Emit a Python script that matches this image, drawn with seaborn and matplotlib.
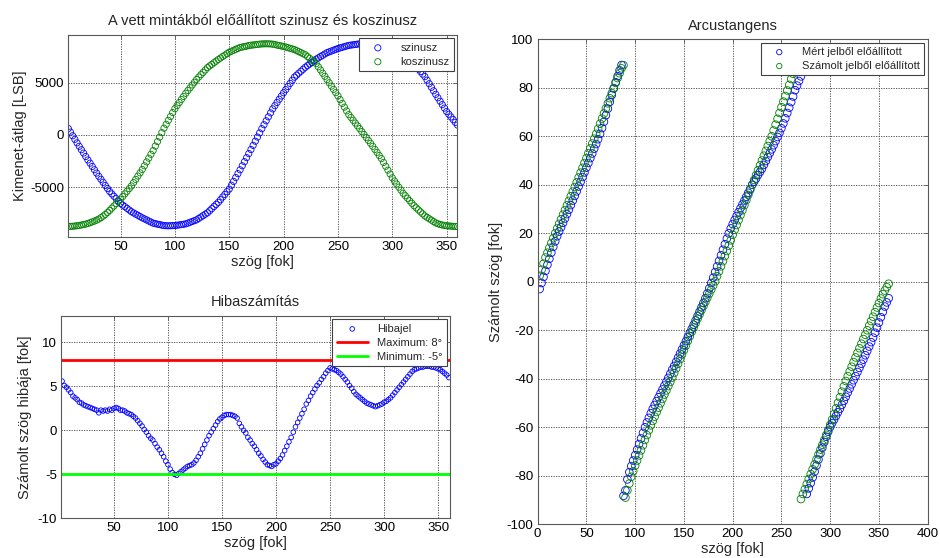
import matplotlib
matplotlib.use('Agg')
import matplotlib.pyplot as plt
import seaborn as sns

# === sample positions (deg) ===
angle_deg = list(range(2, 361, 2))

# === averaged ADC output ===
sin_avg = [
    610, 270, -80, -420, -760, -1090, -1420, -1740, -2070, -2400,
    -2710, -3030, -3340, -3660, -3970, -4260, -4550, -4850, -5140, -5430,
    -5660, -5890, -6110, -6340, -6570, -6730, -6890, -7050, -7210, -7370,
    -7490, -7610, -7720, -7840, -7960, -8060, -8160, -8270, -8370, -8470,
    -8520, -8570, -8610, -8660, -8710, -8720, -8730, -8720, -8710, -8700,
    -8670, -8640, -8610, -8580, -8540, -8470, -8390, -8310, -8230, -8150,
    -8020, -7880, -7750, -7610, -7480, -7280, -7080, -6870, -6670, -6470,
    -6220, -5960, -5710, -5450, -5200, -4830, -4460, -4090, -3720, -3350,
    -2960, -2570, -2180, -1790, -1400, -1000, -600, -200, 200, 600,
    980, 1360, 1740, 2120, 2500, 2810, 3120, 3430, 3740, 4050,
    4350, 4650, 4950, 5250, 5550, 5740, 5930, 6120, 6310, 6500,
    6660, 6810, 6970, 7120, 7280, 7400, 7530, 7650, 7780, 7900,
    7980, 8060, 8140, 8220, 8300, 8360, 8420, 8480, 8540, 8600,
    8630, 8660, 8690, 8720, 8750, 8760, 8760, 8740, 8720, 8700,
    8660, 8620, 8580, 8540, 8500, 8420, 8340, 8260, 8180, 8100,
    7980, 7860, 7740, 7620, 7500, 7360, 7220, 7080, 6940, 6800,
    6560, 6320, 6080, 5840, 5600, 5260, 4920, 4580, 4240, 3900,
    3570, 3240, 2910, 2580, 2250, 1990, 1730, 1470, 1210, 950,
]
cos_avg = [
    -8785, -8780, -8770, -8750, -8720, -8690, -8650, -8610, -8560, -8500,
    -8430, -8350, -8270, -8180, -8080, -7950, -7800, -7640, -7450, -7250,
    -7030, -6820, -6600, -6390, -6170, -5920, -5660, -5410, -5150, -4900,
    -4580, -4270, -3950, -3640, -3320, -2960, -2590, -2230, -1860, -1500,
    -1070, -640, -210, 220, 650, 1020, 1400, 1770, 2150, 2520,
    2820, 3110, 3410, 3700, 4000, 4270, 4530, 4800, 5060, 5330,
    5560, 5790, 6010, 6240, 6470, 6630, 6780, 6940, 7090, 7250,
    7390, 7530, 7670, 7810, 7950, 8040, 8130, 8220, 8310, 8400,
    8440, 8490, 8530, 8580, 8620, 8640, 8670, 8690, 8720, 8740,
    8750, 8755, 8750, 8740, 8720, 8680, 8630, 8590, 8540, 8500,
    8440, 8380, 8320, 8260, 8200, 8100, 8000, 7900, 7800, 7700,
    7530, 7360, 7190, 7020, 6850, 6540, 6240, 5930, 5630, 5320,
    5010, 4690, 4380, 4060, 3750, 3390, 3030, 2670, 2310, 1950,
    1680, 1410, 1140, 870, 600, 320, 40, -240, -520, -800,
    -1090, -1390, -1680, -1980, -2270, -2640, -3010, -3380, -3750, -4120,
    -4420, -4710, -5010, -5300, -5600, -5840, -6080, -6320, -6560, -6800,
    -7000, -7190, -7390, -7580, -7780, -7910, -8050, -8180, -8320, -8450,
    -8530, -8600, -8650, -8690, -8720, -8740, -8760, -8775, -8785, -8790,
]

# === angle error (deg) ===
angle_error = [
    5.6, 5.1, 4.9, 4.6, 4.3, 3.9, 3.7, 3.5, 3.2, 3.1,
    2.9, 2.8, 2.7, 2.6, 2.5, 2.4, 2.3, 2.0, 2.3, 2.2,
    2.3, 2.2, 2.4, 2.3, 2.5, 2.6, 2.5, 2.3, 2.3, 2.2,
    2.0, 1.9, 1.8, 1.6, 1.4, 1.1, 0.8, 0.5, 0.1, -0.2,
    -0.6, -0.9, -1.1, -1.5, -1.9, -2.2, -2.6, -3.0, -3.5, -3.9,
    -4.4, -4.8, -5.0, -5.1, -4.9, -4.7, -4.5, -4.3, -4.1, -4.0,
    -3.9, -3.7, -3.4, -3.0, -2.6, -2.1, -1.6, -1.1, -0.6, -0.2,
    0.2, 0.6, 1.0, 1.3, 1.5, 1.7, 1.8, 1.8, 1.8, 1.7,
    1.6, 1.4, 0.8, 0.4, 0.0, -0.3, -0.8, -1.1, -1.5, -1.8,
    -2.2, -2.6, -2.9, -3.3, -3.6, -3.9, -4.0, -4.1, -3.9, -3.8,
    -3.5, -3.2, -2.8, -2.3, -1.8, -1.3, -0.8, -0.2, 0.4, 0.9,
    1.4, 1.9, 2.4, 3.0, 3.4, 3.9, 4.3, 4.7, 5.1, 5.4,
    5.8, 6.1, 6.5, 6.8, 7.1, 7.0, 6.9, 6.8, 6.6, 6.4,
    6.1, 5.8, 5.5, 5.1, 4.8, 4.4, 4.1, 3.9, 3.7, 3.5,
    3.3, 3.1, 3.0, 2.9, 2.8, 2.7, 2.8, 2.9, 3.0, 3.2,
    3.3, 3.5, 3.7, 4.0, 4.3, 4.6, 4.9, 5.2, 5.5, 5.8,
    6.1, 6.4, 6.7, 6.9, 7.0, 7.1, 7.2, 7.2, 7.3, 7.3,
    7.3, 7.2, 7.2, 7.1, 7.0, 6.9, 6.7, 6.5, 6.3, 6.0,
]
err_max = 8
err_min = -5

# === arctan results (deg) ===
atan_measured = [
    -3, -0.5, 2, 4.5, 7, 9.5, 12, 14.4, 16.7, 18.8,
    20.7, 22.5, 24.3, 26.1, 27.9, 29.7, 31.6, 33.5, 35.4, 37.3,
    39.3, 41.2, 43.2, 45.1, 47.1, 49, 51, 52.9, 54.9, 56.8,
    58.8, 61, 63.4, 66, 68.7, 71.4, 74.2, 77, 79.7, 82.3,
    84.8, 87.2, 89.4, -88.3, -86, -81.5, -78.5, -76, -73.7, -71.5,
    -69.2, -66.9, -64.6, -62.3, -60, -58, -56.1, -54.2, -52.4, -50.8,
    -49.2, -47.6, -46, -44.4, -42.8, -41.2, -39.6, -37.9, -36.2, -34.7,
    -33, -31.3, -29.6, -27.9, -26.2, -24.5, -22.8, -21.1, -19.4, -17.7,
    -15.9, -14.1, -12.3, -10.5, -8.7, -6.8, -4.8, -2.7, -0.5, 1.7,
    4, 6.3, 8.6, 10.9, 13.2, 15.5, 17.8, 20, 22, 23.8,
    25.5, 27.1, 28.7, 30.3, 31.9, 33.5, 35.1, 36.7, 38.3, 40,
    41.3, 42.6, 44, 45.3, 46.6, 48.2, 49.8, 51.4, 53, 54.6,
    56.3, 58, 59.7, 61.4, 63.3, 65.3, 67.4, 69.6, 71.8, 74.1,
    76.4, 79, 80.9, 82.8, 84.7, 86.6, 88.5, -87.5, -85.2, -83,
    -80.7, -78.3, -75.8, -73.3, -70.8, -68.4, -66.1, -63.9, -61.8, -59.9,
    -58.3, -56.8, -55.3, -53.8, -52.3, -50.7, -49.1, -47.4, -45.7, -44,
    -42.3, -40.6, -38.9, -37.2, -35.5, -33.8, -32.1, -30.3, -28.5, -26.7,
    -24.9, -23, -21, -18.9, -16.8, -14.6, -12.4, -10.2, -8.5, -6.8,
]
atan_calculated = [
    2.5, 5, 7.5, 10, 12, 14, 16, 18, 20, 22,
    23.9, 25.8, 27.7, 29.6, 31.5, 33.4, 35.3, 37.2, 39.1, 41,
    43, 45, 47, 49, 51, 53, 55, 57, 59, 61,
    63.1, 65.2, 67.3, 69.4, 71.5, 73.6, 75.7, 77.8, 79.9, 82,
    84, 86, 88, 89.3, -89, -86, -83.2, -80.4, -78.1, -75.8,
    -73.7, -71.6, -69.5, -67.4, -65.2, -63.2, -61.2, -59.2, -57.4, -55.6,
    -53.7, -51.9, -50.1, -48.3, -46.5, -44.8, -43, -41.3, -39.5, -37.6,
    -35.7, -33.8, -31.9, -30, -28.2, -26.3, -24.4, -22.5, -20.6, -18.8,
    -17, -15.2, -13.5, -11.7, -10, -8.3, -6.6, -4.9, -3.2, -1.5,
    0.2, 2.3, 4.3, 6.4, 8.5, 10.6, 12.7, 14.9, 17.1, 19.4,
    21.4, 23.4, 25.4, 27.5, 29.5, 31.6, 33.7, 35.8, 37.9, 40,
    42, 44, 46, 48, 50, 52, 54, 56, 58, 60,
    62.4, 64.8, 67.2, 69.6, 72, 74.3, 76.6, 78.9, 81.2, 83.6,
    85.8, 87, 88.3, 89.4, -89.6, -87.5, -85.5, -83.4, -81.3, -79.3,
    -77.3, -75.3, -73.2, -71.2, -69.2, -67.2, -65.2, -63.1, -61.1, -59,
    -56.8, -54.5, -52.2, -49.9, -47.6, -45.3, -43.1, -40.9, -38.9, -37,
    -35, -33.1, -31.2, -29.3, -27.4, -25.5, -23.6, -21.8, -20, -18.1,
    -16.2, -14.4, -12.5, -10.6, -8.8, -6.9, -5.1, -3.6, -2.2, -0.8,
]

BLUE = (0, 0, 1)
GREEN = (0, 0.5, 0)

sns.set_theme(style='white')
plt.rcParams['font.family'] = ['Liberation Sans', 'DejaVu Sans']
plt.rcParams['axes.unicode_minus'] = False


def matlab_look(ax):
    ax.grid(True, linestyle=(0, (1.5, 1.5)), color='0.25', linewidth=0.6)
    ax.set_axisbelow(True)
    for sp in ax.spines.values():
        sp.set_visible(True)
        sp.set_color('0.35')
        sp.set_linewidth(0.8)
    ax.tick_params(direction='in', length=3, width=0.6, top=True, right=True,
                   colors='0.35', labelcolor='black', labelsize=9.5, pad=3)


def boxed_legend(ax, **kw):
    leg = ax.legend(loc='upper right', fontsize=8, frameon=True, fancybox=False,
                    framealpha=1, edgecolor='0.25', borderaxespad=0.3,
                    scatterpoints=1, borderpad=0.4, labelspacing=0.35, **kw)
    leg.get_frame().set_linewidth(0.8)
    return leg


fig = plt.figure(figsize=(9.4, 5.58), dpi=100)
ax1 = fig.add_axes([0.0727, 0.5753, 0.4140, 0.3620])
ax2 = fig.add_axes([0.0649, 0.0711, 0.4138, 0.3625])
ax3 = fig.add_axes([0.5720, 0.0604, 0.4149, 0.8692])

# --- sine / cosine ---
sns.scatterplot(x=angle_deg, y=sin_avg, ax=ax1, marker='o', s=20, facecolor='none',
                edgecolor=BLUE, linewidth=0.6, label='szinusz')
sns.scatterplot(x=angle_deg, y=cos_avg, ax=ax1, marker='o', s=20, facecolor='none',
                edgecolor=GREEN, linewidth=0.6, label='koszinusz')
ax1.set_xlim(2, 360)
ax1.set_ylim(-9800, 9600)
ax1.set_xticks(range(50, 351, 50))
ax1.set_yticks([-5000, 0, 5000])
matlab_look(ax1)
ax1.set_title('A vett mintákból előállított szinusz és koszinusz', fontsize=10.5, pad=7)
ax1.set_xlabel('szög [fok]', fontsize=10.5, labelpad=1)
ax1.set_ylabel('Kimenet-átlag [LSB]', fontsize=10.5, labelpad=2)
boxed_legend(ax1, handlelength=2.5)

# --- error ---
sns.scatterplot(x=angle_deg, y=angle_error, ax=ax2, marker='o', s=11, facecolor='none',
                edgecolor=BLUE, linewidth=0.6, label='Hibajel')
ax2.axhline(err_max, color=(1, 0, 0), linewidth=2, label=f'Maximum: {err_max}°')
ax2.axhline(err_min, color=(0, 1, 0), linewidth=2, label=f'Minimum: {err_min}°')
ax2.set_xlim(1, 361)
ax2.set_ylim(-10, 13)
ax2.set_xticks(range(50, 351, 50))
ax2.set_yticks([-10, -5, 0, 5, 10])
matlab_look(ax2)
ax2.set_title('Hibaszámítás', fontsize=10.5, pad=7)
ax2.set_xlabel('szög [fok]', fontsize=10.5, labelpad=1)
ax2.set_ylabel('Számolt szög hibája [fok]', fontsize=10.5, labelpad=4)
boxed_legend(ax2, handlelength=2.8)

# --- arctan ---
sns.scatterplot(x=angle_deg, y=atan_measured, ax=ax3, marker='o', s=30, facecolor='none',
                edgecolor=BLUE, linewidth=0.6, label='Mért jelből előállított')
sns.scatterplot(x=angle_deg, y=atan_calculated, ax=ax3, marker='o', s=30, facecolor='none',
                edgecolor=GREEN, linewidth=0.6, label='Számolt jelből előállított')
ax3.set_xlim(0, 400)
ax3.set_ylim(-100, 100)
ax3.set_xticks(range(0, 401, 50))
ax3.set_yticks(range(-100, 101, 20))
matlab_look(ax3)
ax3.set_title('Arcustangens', fontsize=10.5, pad=7)
ax3.set_xlabel('szög [fok]', fontsize=10.5, labelpad=1)
ax3.set_ylabel('Számolt szög [fok]', fontsize=10.5, labelpad=3)
boxed_legend(ax3, handlelength=2.5, markerscale=0.7)

fig.savefig('out.png', dpi=100)
